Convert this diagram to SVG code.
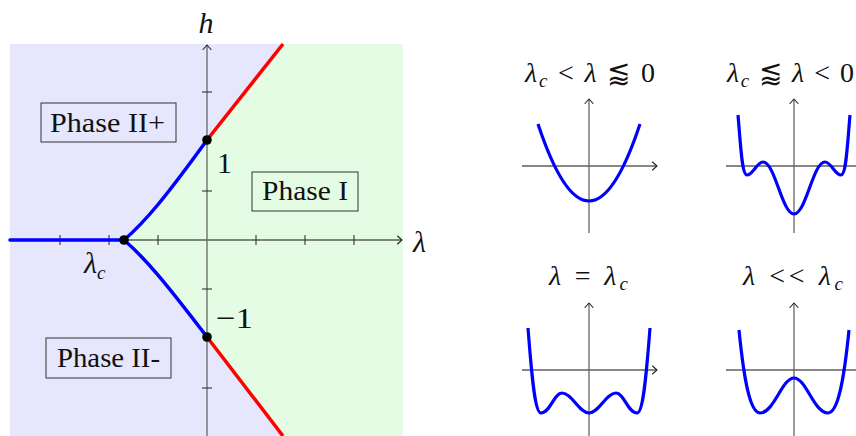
<svg xmlns="http://www.w3.org/2000/svg" width="856" height="436" viewBox="0 0 856 436">
<style>
text{font-family:"Liberation Serif","DejaVu Serif",serif;fill:#111}
.it{font-style:italic}
.ph{font-size:27px}
.ttl{font-size:28px}
.sub{font-size:19px;font-style:italic}
.lab{font-size:30px}
.box{fill:none;stroke:#333;stroke-width:1}
.xax{stroke:#111;stroke-width:1;fill:none}
.yax{stroke:#666;stroke-width:1.3;fill:none}
.tick{stroke:#222;stroke-width:1}
.blue{stroke:#0000ff;stroke-width:3.5;fill:none;stroke-linecap:round}
.red{stroke:#ff0000;stroke-width:3.5;fill:none}
.pot{stroke:#0000ff;stroke-width:3.2;fill:none;stroke-linejoin:round}
</style>
<defs>
<marker id="arr" markerUnits="userSpaceOnUse" markerWidth="12" markerHeight="12" refX="0" refY="0" viewBox="-7 -6 8 12" orient="auto">
<path d="M-4.5,-4 L0,0 L-4.5,4" fill="none" stroke="#222" stroke-width="1.1" stroke-linecap="round" stroke-linejoin="round"/>
</marker>
</defs>

<g id="phase-diagram">
<rect x="10" y="44" width="393" height="392" fill="#e6e6fc"/>
<path d="M283,44 L403,44 L403,436 L283,436 L207,337 C165,282 145,258 124,240 C145,222 165,198 207,140 Z" fill="#e4fce4"/>
<line class="xax" x1="10" y1="240" x2="402" y2="240" marker-end="url(#arr)"/>
<line class="yax" x1="207" y1="436" x2="207" y2="45" marker-end="url(#arr)"/>
<g class="tick">
<line x1="60" y1="235" x2="60" y2="245"/><line x1="109" y1="235" x2="109" y2="245"/><line x1="158" y1="235" x2="158" y2="245"/>
<line x1="256" y1="235" x2="256" y2="245"/><line x1="305" y1="235" x2="305" y2="245"/><line x1="354" y1="235" x2="354" y2="245"/>
<line x1="202" y1="92" x2="212" y2="92"/><line x1="202" y1="191" x2="212" y2="191"/><line x1="202" y1="289" x2="212" y2="289"/><line x1="202" y1="388" x2="212" y2="388"/>
</g>
<path class="blue" d="M10,240 L124,240"/>
<path class="blue" d="M124,240 C145,222 165,198 207,140"/>
<path class="blue" d="M124,240 C145,258 165,282 207,337"/>
<path class="red" d="M207,140 L283,44"/>
<path class="red" d="M207,337 L283,436"/>
<circle cx="124" cy="240" r="4.8" fill="#000"/>
<circle cx="207" cy="140" r="4.8" fill="#000"/>
<circle cx="207" cy="337" r="4.8" fill="#000"/>
<text class="lab it" x="206" y="33" text-anchor="middle">h</text>
<text class="lab it" x="413" y="252">λ</text>
<text class="lab it" x="84" y="273">λ<tspan class="sub" dy="6">c</tspan></text>
<text class="lab" x="217" y="173">1</text>
<text class="lab" x="216" y="328" textLength="37" lengthAdjust="spacingAndGlyphs">−1</text>
</g>

<g id="phase-II-plus">
<rect class="box" x="41" y="103" width="135" height="39"/>
<text class="ph" x="50" y="132" textLength="115" lengthAdjust="spacingAndGlyphs">Phase II+</text>
</g>
<g id="phase-I">
<rect class="box" x="252" y="172" width="106" height="39"/>
<text class="ph" x="262" y="200" textLength="86" lengthAdjust="spacingAndGlyphs">Phase I</text>
</g>
<g id="phase-II-minus">
<rect class="box" x="46" y="338" width="125" height="40"/>
<text class="ph" x="57" y="367" textLength="103" lengthAdjust="spacingAndGlyphs">Phase II-</text>
</g>

<g id="plot-1">
<text class="ttl" x="525" y="82" textLength="130" lengthAdjust="spacing"><tspan class="it">λ</tspan><tspan class="sub" dy="5">c</tspan><tspan dy="-5"> &lt; </tspan><tspan class="it">λ</tspan> ⪅ 0</text>
<line class="xax" x1="522" y1="166" x2="657" y2="166" marker-end="url(#arr)"/>
<line class="yax" x1="589" y1="233" x2="589" y2="99" marker-end="url(#arr)"/>
<path class="pot" d="M538,124 Q589,278 640,124"/>
</g>

<g id="plot-2">
<text class="ttl" x="727" y="82" textLength="127" lengthAdjust="spacing"><tspan class="it">λ</tspan><tspan class="sub" dy="5">c</tspan><tspan dy="-5"> ⪅ </tspan><tspan class="it">λ</tspan> &lt; 0</text>
<line class="xax" x1="726" y1="166" x2="862" y2="166" marker-end="url(#arr)"/>
<line class="yax" x1="794" y1="233" x2="794" y2="99" marker-end="url(#arr)"/>
<path class="pot" d="M738,115 C741,150 742,175 747,175 C753,175 757,162 763,162 C775,162 782,214 794,214 C806,214 813,162 825,162 C831,162 835,175 841,175 C846,175 847,150 850,115"/>
</g>

<g id="plot-3">
<text class="ttl" x="549" y="285" textLength="79" lengthAdjust="spacing"><tspan class="it">λ</tspan> = <tspan class="it">λ</tspan><tspan class="sub" dy="5">c</tspan></text>
<line class="xax" x1="522" y1="370" x2="657" y2="370" marker-end="url(#arr)"/>
<line class="yax" x1="589" y1="436" x2="589" y2="303" marker-end="url(#arr)"/>
<path class="pot" d="M528,328 C532,380 535,413 541,413 C550,413 554,393 562,393 C572,393 579,413 589,413 C599,413 606,393 616,393 C624,393 628,413 637,413 C643,413 646,380 650,328"/>
</g>

<g id="plot-4">
<text class="ttl" x="743" y="285" textLength="100" lengthAdjust="spacing"><tspan class="it">λ</tspan> &lt;&lt; <tspan class="it">λ</tspan><tspan class="sub" dy="5">c</tspan></text>
<line class="xax" x1="726" y1="370" x2="862" y2="370" marker-end="url(#arr)"/>
<line class="yax" x1="794" y1="436" x2="794" y2="303" marker-end="url(#arr)"/>
<path class="pot" d="M739,330 C744,380 750,413 760,413 C774,413 782,378 794,378 C806,378 814,413 828,413 C838,413 844,380 849,330"/>
</g>
</svg>
